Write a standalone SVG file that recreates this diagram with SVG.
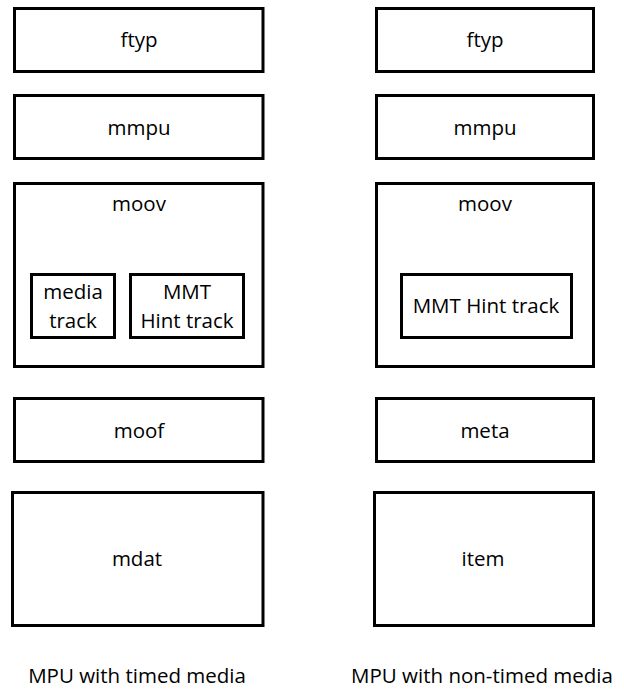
<svg xmlns="http://www.w3.org/2000/svg" width="624" height="689" viewBox="0 0 624 689">
<style>
rect{fill:#fff;stroke:#000;stroke-width:3}
text{font-family:"Open Sans","Liberation Sans",sans-serif;font-size:20.5px;fill:#000;text-anchor:middle}
</style>
<rect x="0" y="0" width="624" height="689" style="stroke:none"/>
<g id="l-ftyp"><rect x="14.5" y="8.5" width="248.5" height="63"/><text x="139" y="47">ftyp</text></g>
<g id="l-mmpu"><rect x="14.5" y="95.5" width="248.5" height="63"/><text x="139" y="135">mmpu</text></g>
<g id="l-moov"><rect x="14.5" y="183.5" width="248.5" height="183"/><text x="139" y="211">moov</text>
<g id="l-media"><rect x="31.5" y="274.5" width="83" height="63"/><text x="73" y="299">media</text><text x="73" y="328">track</text></g>
<g id="l-hint"><rect x="130.5" y="274.5" width="113" height="63"/><text x="187" y="299">MMT</text><text x="187" y="328">Hint track</text></g>
</g>
<g id="l-moof"><rect x="14.5" y="398.5" width="248.5" height="63"/><text x="139" y="438">moof</text></g>
<g id="l-mdat"><rect x="12.5" y="492.5" width="250.5" height="133"/><text x="137" y="566">mdat</text></g>
<text x="137" y="683">MPU with timed media</text>
<g id="r-ftyp"><rect x="376.5" y="8.5" width="217" height="63"/><text x="485" y="47">ftyp</text></g>
<g id="r-mmpu"><rect x="376.5" y="95.5" width="217" height="63"/><text x="485" y="135">mmpu</text></g>
<g id="r-moov"><rect x="376.5" y="183.5" width="217" height="183"/><text x="485" y="211">moov</text>
<g id="r-hint"><rect x="401.5" y="274.5" width="170" height="63"/><text x="486" y="313">MMT Hint track</text></g>
</g>
<g id="r-meta"><rect x="376.5" y="398.5" width="217" height="63"/><text x="485" y="438">meta</text></g>
<g id="r-item"><rect x="374.5" y="492.5" width="219" height="133"/><text x="483" y="566">item</text></g>
<text x="482" y="683">MPU with non-timed media</text>
<g id="connectors"/>
</svg>
